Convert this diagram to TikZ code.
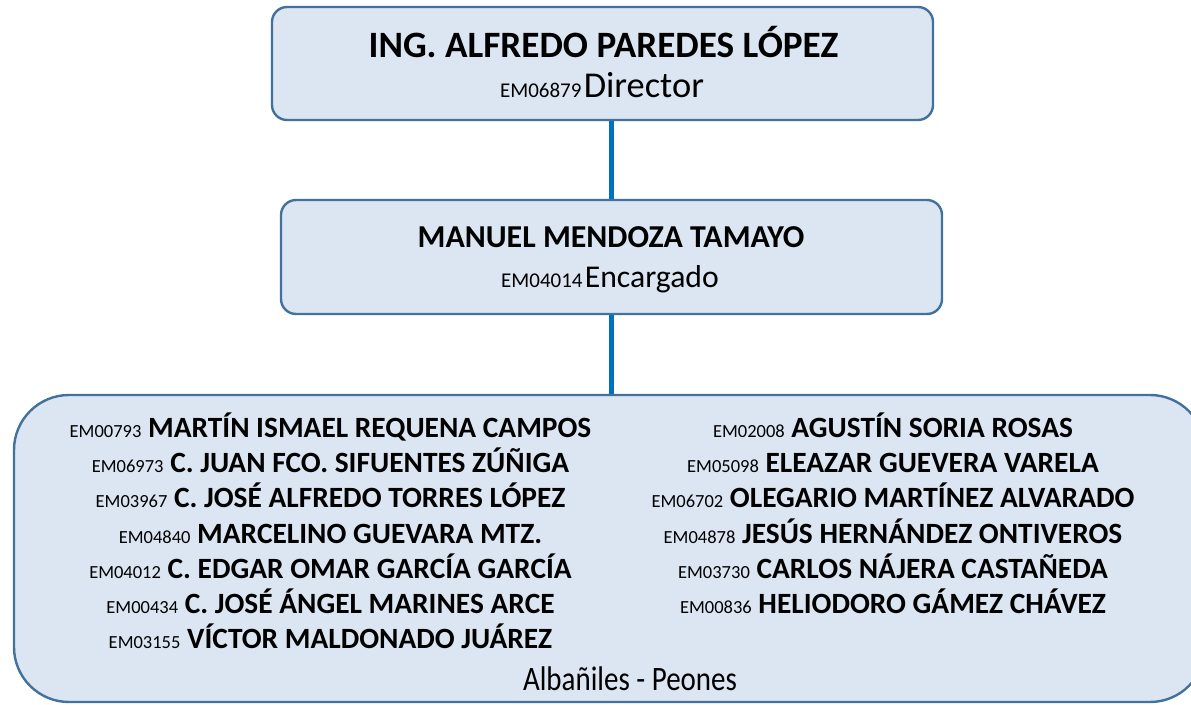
\documentclass[tikz,border=0pt]{standalone}
\usepackage{fontspec}
\setmainfont{Carlito}
\usetikzlibrary{positioning,backgrounds}
\definecolor{boxfill}{RGB}{220,230,242}
\definecolor{boxline}{RGB}{65,113,156}
\definecolor{link}{RGB}{0,112,192}
\newcommand{\fsz}[1]{\fontsize{#1}{#1}\selectfont}

\begin{document}
\begin{tikzpicture}[
  x=1pt, y=-1pt,
  box/.style={draw=boxline, line width=2.4pt, fill=boxfill, rounded corners=15pt, inner sep=0pt},
  txt/.style={anchor=base, inner sep=0pt},
  head/.style={txt, font=\fsz{37.2}\bfseries},
  sub/.style={txt, font=\fsz{31.9}\bfseries},
  row/.style={txt, font=\fsz{29.4}\bfseries},
  conn/.style={link, line width=5pt},
]
\useasboundingbox (0,0) rectangle (1191,704);
% boxes
\node[box, minimum width=661pt, minimum height=113pt] (boss) at (602.5,63.5) {};
\node[box, minimum width=661pt, minimum height=114pt] (foreman) at (611.5,257) {};
\begin{scope}
  \clip (0,0) rectangle (1191,704);
  \node[box, rounded corners=55pt, minimum width=1191pt, minimum height=307pt] (crew) at (609.5,548.5) {};
\end{scope}
% connectors
\begin{scope}[on background layer]
  \draw[conn] (foreman.north) -- (foreman.north |- boss.south);
  \draw[conn] (foreman.south) -- (foreman.south |- crew.north);
\end{scope}
% director
\node[head] (bossname) at (603.5,57) {ING. ALFREDO PAREDES LÓPEZ};
\node[txt] (bossrole) at (602,97) {{\fsz{21}EM06879} {\fsz{36.4}Director}};
% encargado
\node[sub] (foremanname) at (611,247) {MANUEL MENDOZA TAMAYO};
\node[txt] (foremanrole) at (610,287) {{\fsz{21}EM04014} {\fsz{31.7}Encargado}};
% albañiles
\foreach \code/\name [count=\i] in {
  EM00793/MARTÍN ISMAEL REQUENA CAMPOS,
  EM06973/C. JUAN FCO. SIFUENTES ZÚÑIGA,
  EM03967/C. JOSÉ ALFREDO TORRES LÓPEZ,
  EM04840/MARCELINO GUEVARA MTZ.,
  EM04012/C. EDGAR OMAR GARCÍA GARCÍA,
  EM00434/C. JOSÉ ÁNGEL MARINES ARCE,
  EM03155/VÍCTOR MALDONADO JUÁREZ}
  \node[row] (left\i) at (330.5,{437.5+35.2*(\i-1)}) {{\mdseries\fsz{18.5}\code} \name};
\foreach \code/\name [count=\i] in {
  EM02008/AGUSTÍN SORIA ROSAS,
  EM05098/ELEAZAR GUEVERA VARELA,
  EM06702/OLEGARIO MARTÍNEZ ALVARADO,
  EM04878/JESÚS HERNÁNDEZ ONTIVEROS,
  EM03730/CARLOS NÁJERA CASTAÑEDA,
  EM00836/HELIODORO GÁMEZ CHÁVEZ}
  \node[row] (right\i) at (893,{437.5+35.2*(\i-1)}) {{\mdseries\fsz{18.5}\code} \name};
\node[txt, font=\fsz{29}] (crewrole) at (630,690) {\scalebox{1}[1.18]{Albañiles - Peones}};
\end{tikzpicture}
\end{document}
